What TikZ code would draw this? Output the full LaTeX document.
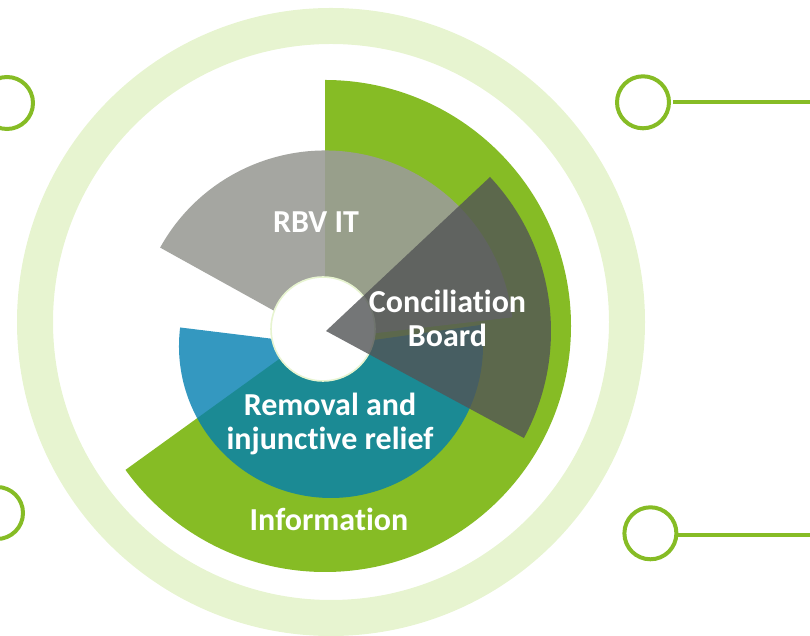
\documentclass[tikz,border=0pt]{standalone}
\usepackage{fontspec}
\setmainfont[Ligatures=NoCommon]{Carlito}
\definecolor{leaf}{HTML}{86BC25}
\definecolor{paleleaf}{HTML}{E7F4D0}
\definecolor{stone}{HTML}{9B9C97}
\definecolor{ocean}{HTML}{017EB0}
\definecolor{slate}{HTML}{525456}
\tikzset{
  label text/.style={text=white,font=\fontsize{32bp}{34bp}\selectfont\bfseries,align=center,inner sep=0pt},
  marker/.style={circle,draw=leaf,line width=4bp,fill=white,minimum size=52bp,inner sep=0pt,outer sep=0pt},
  lead/.style={draw=leaf,line width=4bp}
}
\begin{document}
\begin{tikzpicture}[x=1bp,y=1bp]
\useasboundingbox (0,0) rectangle (810,636);
% outer ring
\draw[paleleaf,line width=36bp] (331,314) circle[radius=296];
% sectors
\fill[leaf] (325,310) -- ++(90:246) arc[start angle=90,end angle=-144.2,radius=246] -- cycle;
\fill[stone,fill opacity=.9] (325,297) -- ++(151:188.5) arc[start angle=151,end angle=6.6,radius=188.5] -- cycle;
\fill[ocean,fill opacity=.8] (331,290) -- ++(173:152) arc[start angle=173,end angle=368,radius=152] -- cycle;
\draw[paleleaf,line width=1.6bp,fill=white] (323,307) circle[radius=52];
\fill[slate,fill opacity=.8] (326,305) -- ++(43.2:225) arc[start angle=43.2,end angle=-28.4,radius=225] -- cycle;
% labels
\node[label text] (rbv) at (316,414) {RBV IT};
\node[label text] (conc) at (447.5,318) {Conciliation\\Board};
\node[label text] (remo) at (330,212) {Removal and\\injunctive relief};
\node[label text] (info) at (329,116.5) {Information};
% side markers
\node[marker] (mtl) at (7,533) {};
\node[marker] (mbl) at (-3,123) {};
\node[marker] (mtr) at (643,533.7) {};
\node[marker] (mbr) at (650.4,102.7) {};
\coordinate (etr) at (810,533.5);
\coordinate (ebr) at (810,100.5);
\draw[lead,shorten <=4bp] (mtr.east |- etr) -- (etr);
\draw[lead] (mbr.east |- ebr) -- (ebr);
\end{tikzpicture}
\end{document}
